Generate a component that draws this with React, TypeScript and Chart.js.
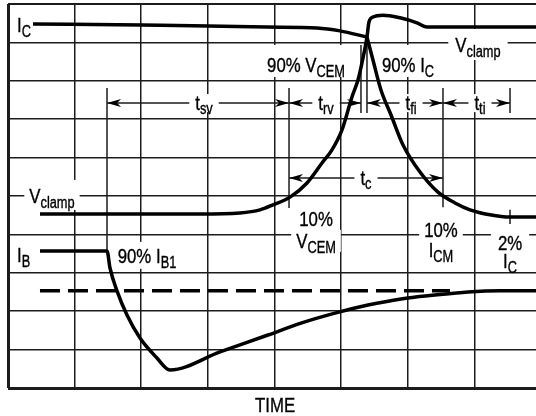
import React, { useEffect, useRef } from "react";
import { Chart, registerables } from "chart.js";

Chart.register(...registerables);

// ---- Grid (time divisions / amplitude divisions) ----
const X_TICKS = [0, 1, 2, 3, 4, 5, 6, 7];
const Y_TICKS = [0, 1, 2, 3, 4, 5, 6, 7, 8, 9, 10];
const X_MAX = 7.925;
const Y_MAX = 10;

// ---- Collector current I_C: flat part up to the crossing ----
const icFlatX = [0.375, 2.011, 3.002, 3.887, 4.638, 4.983, 5.388];
const icFlatY = [9.48, 9.45, 9.43, 9.4, 9.375, 9.3, 9.14];
// ---- Collector current I_C: fall from the crossing to 2% I_C ----
const icFallX = [5.388, 5.478, 5.598, 5.749, 5.929, 6.184, 6.454, 6.709, 6.934, 7.234, 7.535, 7.925];
const icFallY = [9.14, 8.54, 7.76, 7.11, 6.33, 5.625, 5.1, 4.82, 4.64, 4.51, 4.45, 4.45];

// ---- Collector-emitter voltage V_CE (rises to V_clamp with overshoot) ----
const vceX = [0.48, 2.882, 3.482, 3.782, 3.977, 4.233, 4.488, 4.713, 4.863, 5.013, 5.163, 5.253, 5.328, 5.388, 5.418, 5.478, 5.628, 5.884, 6.139, 6.289, 6.634, 7.925];
const vceY = [4.53, 4.53, 4.56, 4.64, 4.77, 4.97, 5.34, 5.86, 6.2, 6.72, 7.58, 8.02, 8.59, 9.14, 9.53, 9.66, 9.71, 9.64, 9.51, 9.4, 9.4, 9.4];

// ---- Base current I_B ----
const ibX = [0.48, 1.486, 1.531, 1.636, 1.786, 1.981, 2.236, 2.431, 3.182, 3.902, 4.398, 4.908, 5.403, 5.899, 6.409, 6.904, 7.4, 7.925];
const ibY = [3.57, 3.57, 3.125, 2.53, 1.9, 1.3, 0.78, 0.47, 0.94, 1.38, 1.69, 1.95, 2.16, 2.32, 2.42, 2.5, 2.53, 2.53];

// ---- Dashed reference level ----
const dashX = [0.48, 6.634];
const dashY = [2.53, 2.53];

// ---- Timing interval markers ----
const intervalNames = ["sv", "rv", "fi", "ti", "c"];
const intervalStart = [1.486, 4.218, 5.388, 6.529, 4.218];
const intervalEnd = [4.218, 5.298, 6.529, 7.535, 6.529];
const intervalLevel = [7.42, 7.42, 7.42, 7.42, 5.47];
const intervalLabelX = [2.942, 4.773, 6.049, 7.084, 5.373];

// ---- Vertical marker lines [x, yFrom, yTo] ----
const markerX = [1.486, 4.218, 5.298, 5.388, 6.529, 7.535, 7.535];
const markerFrom = [7.81, 7.81, 8.93, 9.14, 7.81, 7.81, 4.64];
const markerTo = [3.57, 4.69, 7.16, 7.16, 4.71, 7.16, 4.27];

// ---- Text labels ----
type Lbl = { x: number; y: number; main: string; sub: string; align: "left" | "center"; pad?: number[] };
const labels: Lbl[] = [
  { x: 0.135, y: 9.27, main: "I", sub: "C", align: "left" },
  { x: 4.473, y: 8.23, main: "90% V", sub: "CEM", align: "center", pad: [4, 12, 5] },
  { x: 6.004, y: 8.23, main: "90% I", sub: "C", align: "center", pad: [4, 12, 5] },
  { x: 7.054, y: 8.75, main: "V", sub: "clamp", align: "center", pad: [7, 8, 8] },
  { x: 4.623, y: 4.22, main: "10%", sub: "", align: "center", pad: [5, 5, 3] },
  { x: 4.623, y: 3.65, main: "V", sub: "CEM", align: "center", pad: [5, 3, 4] },
  { x: 6.499, y: 3.93, main: "10%", sub: "", align: "center", pad: [5, 5, 3] },
  { x: 6.499, y: 3.41, main: "I", sub: "CM", align: "center", pad: [6, 3, 4] },
  { x: 7.535, y: 3.59, main: "2%", sub: "", align: "center", pad: [7, 5, 3] },
  { x: 7.535, y: 3.125, main: "I", sub: "C", align: "center", pad: [9, 3, 4] },
  { x: 0.135, y: 3.28, main: "I", sub: "B", align: "left" },
  { x: 2.086, y: 3.26, main: "90% I", sub: "B1", align: "center", pad: [4, 6, 6] },
  { x: 0.66, y: 4.82, main: "V", sub: "clamp", align: "center", pad: [5, 8, 7] },
];
const axisTitle = "TIME";
const axisTitleX = 4.008;
const axisTitleY = -0.625;

const FONT = '"Liberation Sans", Arial, sans-serif';
const SX = 0.8;
const MAIN = 21;
const SUB = 16;
const SUB_DY = 5;
const INK = "#000";
const GRID = "#1c1c1c";

function textW(ctx: CanvasRenderingContext2D, s: string, size: number) {
  ctx.font = `${size}px ${FONT}`;
  return ctx.measureText(s).width * SX;
}
function drawT(ctx: CanvasRenderingContext2D, s: string, x: number, y: number, size: number) {
  ctx.save();
  ctx.font = `${size}px ${FONT}`;
  ctx.textAlign = "left";
  ctx.textBaseline = "alphabetic";
  ctx.fillStyle = INK;
  ctx.strokeStyle = INK;
  ctx.lineWidth = 0.35;
  ctx.translate(x, y);
  ctx.scale(SX, 1);
  ctx.fillText(s, 0, 0);
  ctx.strokeText(s, 0, 0);
  ctx.restore();
}
function labelGeom(ctx: CanvasRenderingContext2D, l: Lbl, px: number) {
  const wm = textW(ctx, l.main, MAIN);
  const ws = l.sub ? textW(ctx, l.sub, SUB) : 0;
  const w = wm + ws;
  const left = l.align === "center" ? px - w / 2 : px;
  return { left, wm, w };
}
function arrowHead(ctx: CanvasRenderingContext2D, x: number, y: number, dir: number) {
  ctx.beginPath();
  ctx.moveTo(x, y);
  ctx.lineTo(x - dir * 14, y - 4);
  ctx.lineTo(x - dir * 10, y);
  ctx.lineTo(x - dir * 14, y + 4);
  ctx.closePath();
  ctx.fillStyle = INK;
  ctx.fill();
}

const annotations = {
  id: "switchingAnnotations",
  beforeDatasetsDraw(chart: any) {
    const ctx: CanvasRenderingContext2D = chart.ctx;
    const xs = chart.scales.x;
    const ys = chart.scales.y;
    ctx.save();
    ctx.strokeStyle = GRID;
    ctx.lineWidth = 1.5;
    markerX.forEach((mx, i) => {
      const px = xs.getPixelForValue(mx);
      ctx.beginPath();
      ctx.moveTo(px, ys.getPixelForValue(markerFrom[i]));
      ctx.lineTo(px, ys.getPixelForValue(markerTo[i]));
      ctx.stroke();
    });
    intervalNames.forEach((_, i) => {
      const y = ys.getPixelForValue(intervalLevel[i]);
      ctx.beginPath();
      ctx.moveTo(xs.getPixelForValue(intervalStart[i]), y);
      ctx.lineTo(xs.getPixelForValue(intervalEnd[i]), y);
      ctx.stroke();
    });
    ctx.fillStyle = "#fff";
    intervalNames.forEach((n, i) => {
      const cx = xs.getPixelForValue(intervalLabelX[i]);
      const y = ys.getPixelForValue(intervalLevel[i]);
      const w = textW(ctx, "t", MAIN) + textW(ctx, n, SUB);
      ctx.fillRect(cx - w / 2 - 6, y - 9, w + 12, 18);
    });
    labels.forEach((l) => {
      const px = xs.getPixelForValue(l.x);
      const py = ys.getPixelForValue(l.y);
      const g = labelGeom(ctx, l, px);
      const p = l.pad || [3, 4, 5];
      ctx.fillStyle = "#fff";
      ctx.fillRect(g.left - p[0], py - 15 - p[1], g.w + 2 * p[0], 15 + p[1] + p[2]);
    });
    ctx.restore();
  },
  afterDatasetsDraw(chart: any) {
    const ctx: CanvasRenderingContext2D = chart.ctx;
    const xs = chart.scales.x;
    const ys = chart.scales.y;
    ctx.save();
    intervalNames.forEach((n, i) => {
      const y = ys.getPixelForValue(intervalLevel[i]);
      arrowHead(ctx, xs.getPixelForValue(intervalStart[i]), y, -1);
      arrowHead(ctx, xs.getPixelForValue(intervalEnd[i]), y, 1);
      const cx = xs.getPixelForValue(intervalLabelX[i]);
      const wt = textW(ctx, "t", MAIN);
      const w = wt + textW(ctx, n, SUB);
      drawT(ctx, "t", cx - w / 2, y + 7, MAIN);
      drawT(ctx, n, cx - w / 2 + wt, y + 11, SUB);
    });
    labels.forEach((l) => {
      const px = xs.getPixelForValue(l.x);
      const py = ys.getPixelForValue(l.y);
      const g = labelGeom(ctx, l, px);
      drawT(ctx, l.main, g.left, py, MAIN);
      if (l.sub) drawT(ctx, l.sub, g.left + g.wm, py + SUB_DY, SUB);
    });
    ctx.restore();
  },
  afterDraw(chart: any) {
    const ctx: CanvasRenderingContext2D = chart.ctx;
    const xs = chart.scales.x;
    const ys = chart.scales.y;
    const w = textW(ctx, axisTitle, MAIN);
    drawT(ctx, axisTitle, xs.getPixelForValue(axisTitleX) - w / 2, ys.getPixelForValue(axisTitleY), MAIN);
  },
};

function pts(xs: number[], ys: number[]) {
  return xs.map((x, i) => ({ x, y: ys[i] }));
}

export default function App() {
  const ref = useRef<HTMLCanvasElement | null>(null);
  useEffect(() => {
    if (!ref.current) return;
    const curve = (data: any[], extra: any = {}) => ({
      data,
      showLine: true,
      borderColor: INK,
      borderWidth: 3.5,
      pointRadius: 0,
      cubicInterpolationMode: "monotone",
      fill: false,
      ...extra,
    });
    const chart = new Chart(ref.current, {
      type: "scatter",
      data: {
        datasets: [
          curve(pts(icFlatX, icFlatY)),
          curve(pts(icFallX, icFallY)),
          curve(pts(vceX, vceY)),
          curve(pts(ibX, ibY)),
          curve(pts(dashX, dashY), { borderDash: [20, 8], cubicInterpolationMode: "default" }),
        ] as any,
      },
      options: {
        animation: false,
        responsive: false,
        devicePixelRatio: 1,
        layout: { padding: { left: 8, right: 0, top: 4, bottom: 28 } },
        plugins: { legend: { display: false }, tooltip: { enabled: false } },
        scales: {
          x: {
            type: "linear",
            min: 0,
            max: X_MAX,
            afterBuildTicks: (s: any) => {
              s.ticks = X_TICKS.map((v) => ({ value: v }));
            },
            ticks: { display: false },
            border: { display: false },
            grid: {
              color: GRID,
              drawTicks: false,
              lineWidth: (c: any) => (c.tick && c.tick.value === 0 ? 3 : 1.5),
            },
          },
          y: {
            type: "linear",
            min: 0,
            max: Y_MAX,
            afterBuildTicks: (s: any) => {
              s.ticks = Y_TICKS.map((v) => ({ value: v }));
            },
            ticks: { display: false },
            border: { display: false },
            grid: {
              color: GRID,
              drawTicks: false,
              lineWidth: (c: any) => (c.tick && c.tick.value === 0 ? 3 : c.tick && c.tick.value === 10 ? 2 : 1.5),
            },
          },
        },
      } as any,
      plugins: [annotations],
    });
    return () => chart.destroy();
  }, []);
  return (
    <div style={{ position: "fixed", left: 0, top: 0, width: 536, height: 416, background: "#fff" }}>
      <canvas ref={ref} width={536} height={416} style={{ display: "block" }} />
    </div>
  );
}
